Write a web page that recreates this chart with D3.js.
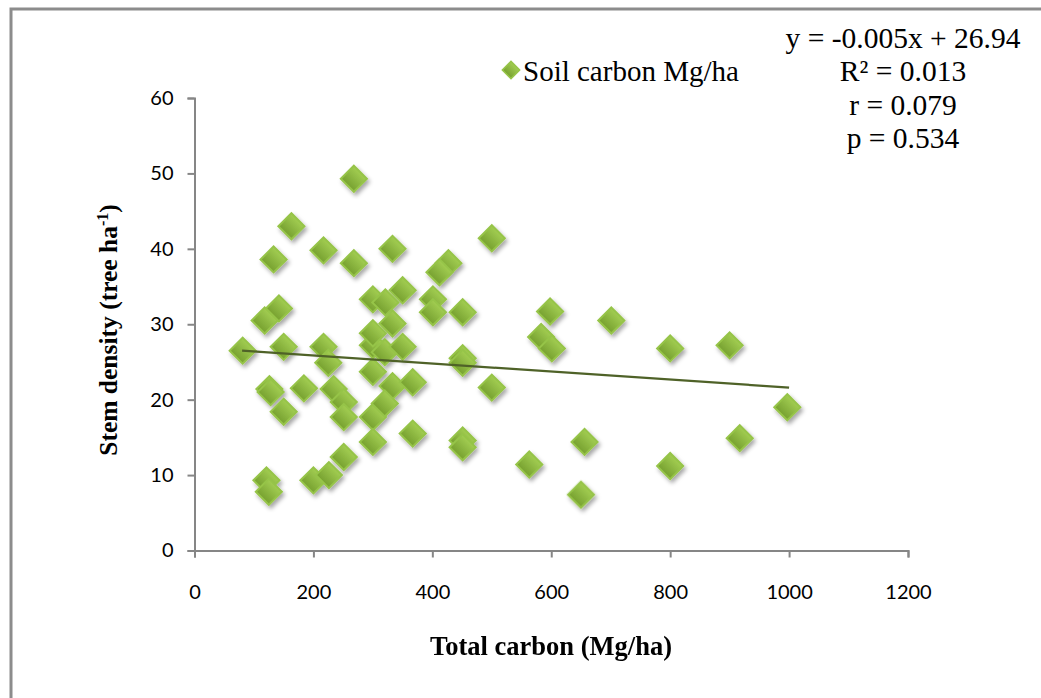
<!DOCTYPE html>
<html>
<head>
<meta charset="utf-8">
<script src="https://cdn.jsdelivr.net/npm/d3@7"></script>
<style>
  body { margin: 0; background: #fff; }
  svg { display: block; }
</style>
</head>
<body>
<div id="chart"></div>
<script>
// values
const totalCarbon = [81, 150, 217, 225, 300, 300, 126, 128, 184, 234, 251, 150, 251, 300, 300, 251, 121, 125, 200, 226,
  268, 163, 133, 217, 268, 300, 142, 118, 300, 333, 427, 412, 321, 350, 401, 401, 451, 598, 583, 333,
  320, 350, 451, 451, 333, 367, 320, 500, 500, 367, 451, 451, 563, 601, 701, 800, 900, 997, 656, 917, 800, 650];
const stemDensity = [26.5, 27.0, 27.0, 24.9, 27.2, 23.7, 21.4, 21.0, 21.5, 21.4, 19.7, 18.4, 17.7, 17.7, 14.4, 12.4, 9.3, 7.8, 9.3, 10.0,
  49.3, 43.0, 38.6, 39.8, 38.1, 33.3, 32.1, 30.5, 28.8, 40.0, 38.1, 36.9, 32.9, 34.5, 33.3, 31.6, 31.6, 31.7, 28.3, 30.1,
  26.3, 27.0, 25.5, 24.9, 21.8, 22.3, 19.5, 41.4, 21.6, 15.5, 14.6, 13.7, 11.4, 26.8, 30.5, 26.8, 27.2, 19.0, 14.4, 14.9, 11.2, 7.4];
const trendX = [80, 1000];
const trendY = [26.5, 21.6];
const xTicks = [0, 200, 400, 600, 800, 1000, 1200];
const yTicks = [0, 10, 20, 30, 40, 50, 60];
const statLines = ["y = -0.005x + 26.94", "R² = 0.013", "r = 0.079", "p = 0.534"];
const seriesName = "Soil carbon Mg/ha";

const W = 1041, H = 698;
const svg = d3.select("#chart").append("svg")
  .attr("width", W)
  .attr("height", H);

const defs = svg.append("defs");
const grad = defs.append("linearGradient")
  .attr("id", "dia")
  .attr("x1", 0).attr("y1", 0).attr("x2", 0).attr("y2", 1);
grad.append("stop").attr("offset", "0%").attr("stop-color", "#a2cd52");
grad.append("stop").attr("offset", "100%").attr("stop-color", "#77a130");

const shadow = defs.append("filter")
  .attr("id", "shadow")
  .attr("x", "-50%").attr("y", "-50%").attr("width", "200%").attr("height", "200%");
shadow.append("feDropShadow")
  .attr("dx", 2).attr("dy", 3)
  .attr("stdDeviation", 2.2)
  .attr("flood-color", "#000")
  .attr("flood-opacity", 0.35);

// outer frame
svg.append("path")
  .attr("d", "M11," + (H + 5) + "V9H" + (W + 5))
  .attr("fill", "none")
  .attr("stroke", "#8c8c8c")
  .attr("stroke-width", 3);

const x = d3.scaleLinear().domain([0, 1200]).range([194.5, 908]);
const y = d3.scaleLinear().domain([0, 60]).range([550.5, 98]);

// axes
const xAxis = svg.append("g")
  .attr("transform", "translate(0," + y(0) + ")")
  .call(d3.axisBottom(x).tickValues(xTicks).tickSize(7).tickPadding(27).tickFormat(d3.format("d")));
const yAxis = svg.append("g")
  .attr("transform", "translate(" + x(0) + ",0)")
  .call(d3.axisLeft(y).tickValues(yTicks).tickSize(7).tickPadding(14).tickFormat(d3.format("d")));

[xAxis, yAxis].forEach(g => {
  g.select(".domain").attr("stroke", "#868686").attr("stroke-width", 2);
  g.selectAll(".tick line").attr("stroke", "#868686").attr("stroke-width", 2);
  g.selectAll(".tick text")
    .attr("fill", "#000")
    .style("font-family", "Lato, 'Open Sans', sans-serif")
    .style("font-size", "20px");
});

// points
const pts = totalCarbon.map((v, i) => ({ x: v, y: stemDensity[i] }));
const diamond = d3.symbol().type(d3.symbolSquare).size(340);

svg.append("g")
  .attr("filter", "url(#shadow)")
  .selectAll("path")
  .data(pts)
  .enter().append("path")
  .attr("d", diamond)
  .attr("transform", d => "translate(" + x(d.x) + "," + y(d.y) + ") rotate(45)")
  .attr("fill", "url(#dia)")
  .attr("stroke", "#96c448")
  .attr("stroke-width", 2);

// trend line
const line = d3.line().x(d => x(d[0])).y(d => y(d[1]));
const trend = trendX.map((v, i) => [v, trendY[i]]);
svg.append("path")
  .attr("d", line(trend))
  .attr("fill", "none")
  .attr("stroke", "#4f6228")
  .attr("stroke-width", 2.2);

// axis titles
svg.append("text")
  .attr("x", 551)
  .attr("y", 655)
  .attr("text-anchor", "middle")
  .style("font-family", "'Liberation Serif', 'Times New Roman', serif")
  .style("font-weight", "bold")
  .style("font-size", "26.5px")
  .text("Total carbon (Mg/ha)");

const yt = svg.append("text")
  .attr("transform", "translate(117,330) rotate(-90)")
  .attr("text-anchor", "middle")
  .style("font-family", "'Liberation Serif', 'Times New Roman', serif")
  .style("font-weight", "bold")
  .style("font-size", "25.5px");
yt.append("tspan").text("Stem density (tree ha");
yt.append("tspan").attr("dy", -9).style("font-size", "16px").text("-1");
yt.append("tspan").attr("dy", 9).text(")");

// legend
const lg = svg.append("g").attr("transform", "translate(511,70)");
lg.append("path")
  .attr("d", d3.symbol().type(d3.symbolSquare).size(150))
  .attr("transform", "rotate(45)")
  .attr("fill", "url(#dia)")
  .attr("stroke", "#96c448")
  .attr("stroke-width", 1.5);
lg.append("text")
  .attr("x", 12)
  .attr("y", 11)
  .style("font-family", "'Liberation Serif', 'Times New Roman', serif")
  .style("font-size", "29px")
  .text(seriesName);

// regression statistics
svg.append("g")
  .selectAll("text")
  .data(statLines)
  .enter().append("text")
  .attr("x", 903)
  .attr("y", (d, i) => 48 + i * 33.3)
  .attr("text-anchor", "middle")
  .style("font-family", "'Liberation Serif', 'Times New Roman', serif")
  .style("font-size", "29.5px")
  .text(d => d);
</script>
</body>
</html>
